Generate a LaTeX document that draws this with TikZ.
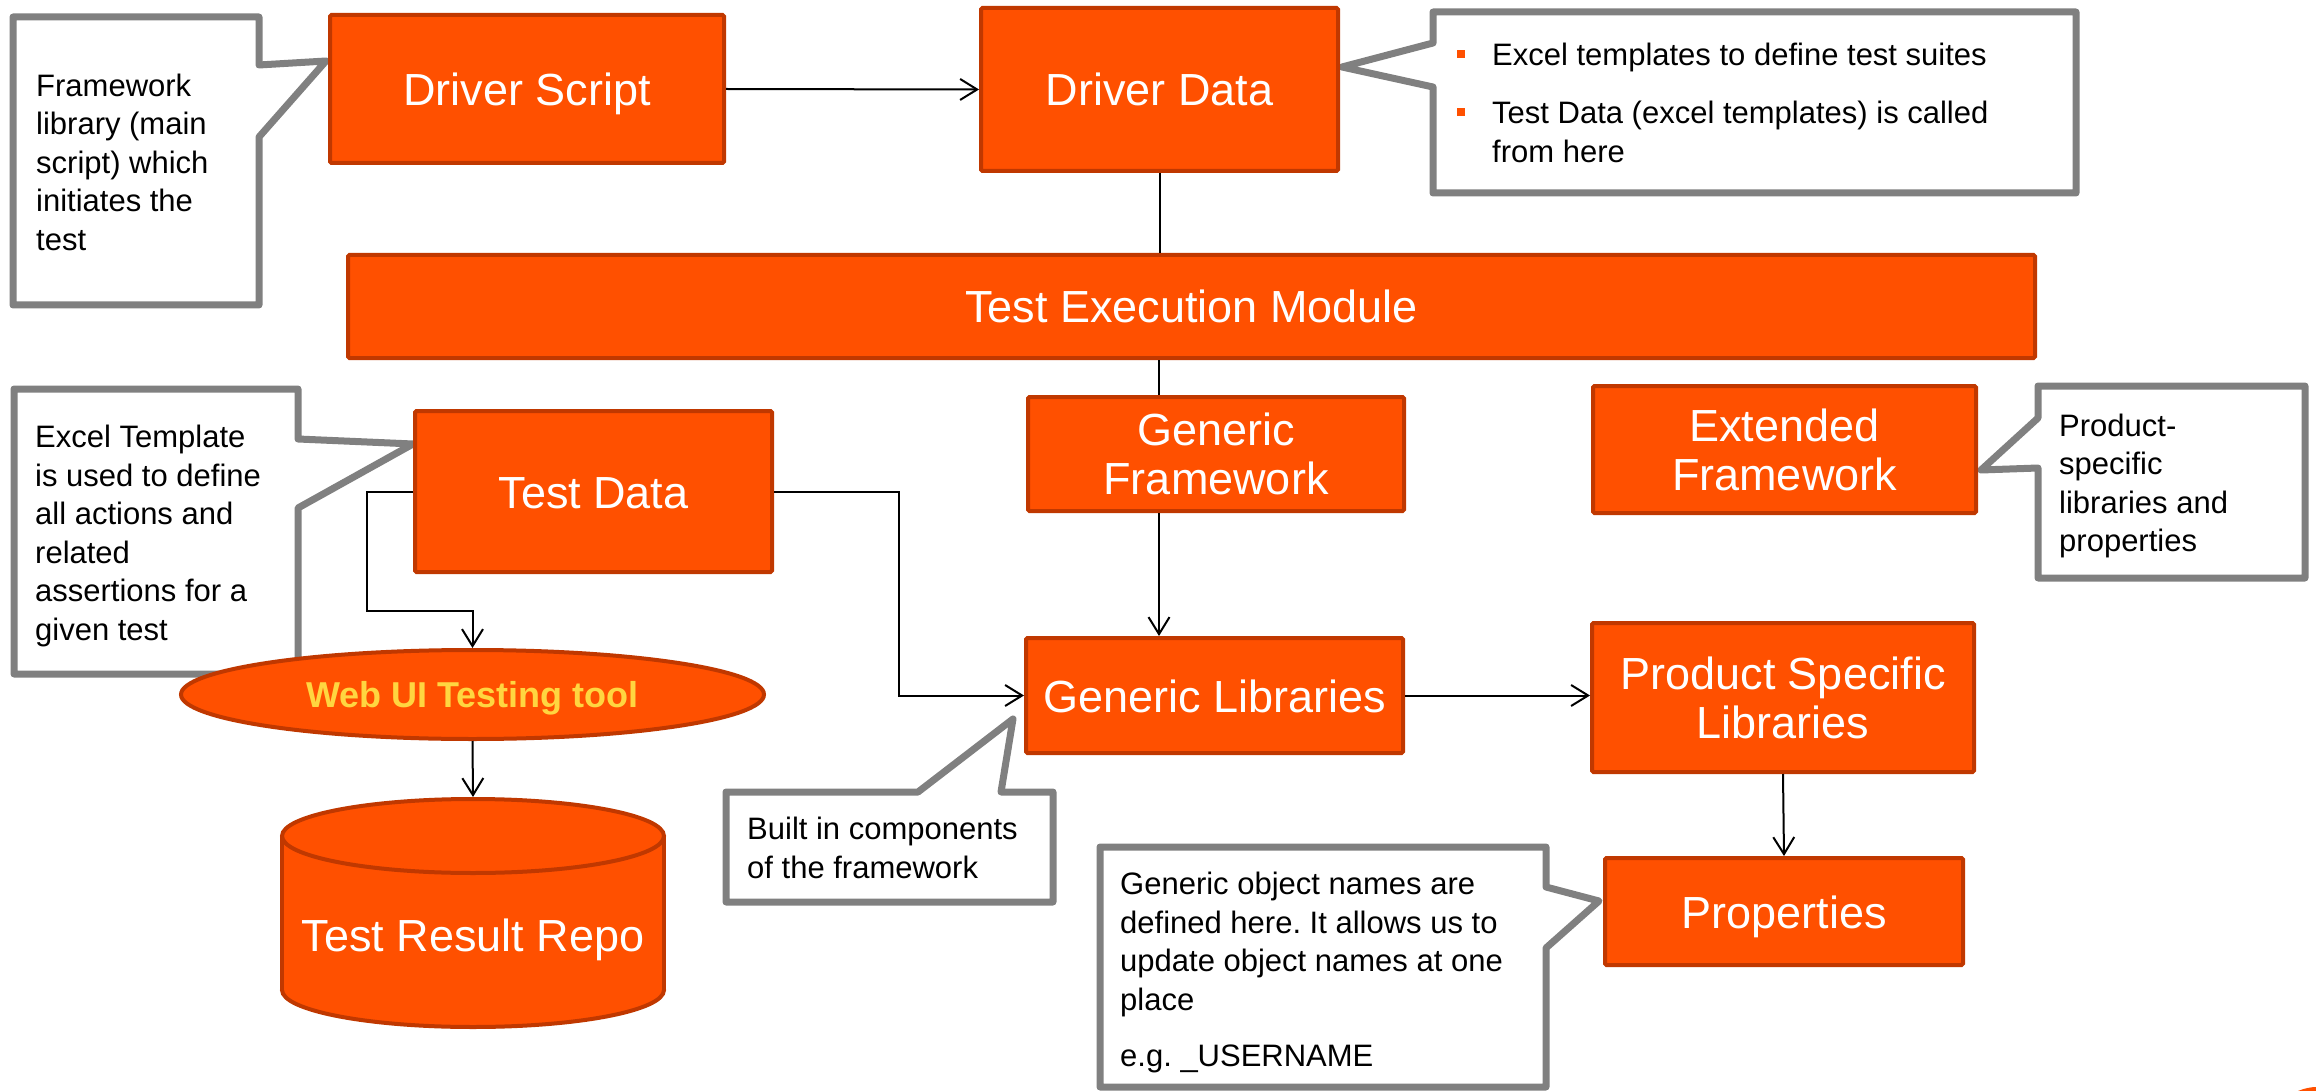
\documentclass[tikz,border=0pt]{standalone}
\usepackage{fontspec}
\setmainfont{Liberation Sans}
\usetikzlibrary{arrows.meta,shapes.geometric}
\frenchspacing

\definecolor{boxfill}{RGB}{255,80,0}
\definecolor{boxline}{RGB}{192,56,0}
\definecolor{notegray}{RGB}{128,128,128}
\definecolor{tooltext}{RGB}{255,214,64}

\tikzset{
  block/.style={draw=boxline, fill=boxfill, line width=4pt, rounded corners=1.5pt,
    text=white, font=\fontsize{45}{49}\selectfont, align=center, inner sep=0pt},
  oneline/.style={text height=33pt, text depth=0pt},
  note/.style={draw=notegray, fill=white, line width=7pt, line join=round},
  notetext/.style={font=\fontsize{31}{38.5}\selectfont, align=left, anchor=west, inner sep=0pt},
  link/.style={line width=2pt, black},
  arrowlink/.style={link, -{Straight Barb[length=17pt,width=21pt,line width=2pt]}},
}

\begin{document}
\begin{tikzpicture}[x=1pt, y=-1pt]
\useasboundingbox (0,0) rectangle (2316,1091);

% ---- callouts ----
\draw[note] (13,17) -- (259,17) -- (259,65) -- (326,61) -- (259,137) -- (259,305) -- (13,305) -- cycle;
\node[notetext] (n1) at (36,162) {Framework\\library (main\\script) which\\initiates the\\test};

\draw[note] (1433,12) -- (2076,12) -- (2076,193) -- (1433,193) -- (1433,87) -- (1342,67) -- (1433,43) -- cycle;
\fill[boxfill] (1457,50) rectangle (1465,58);
\fill[boxfill] (1457,108) rectangle (1465,116);
\node[notetext] (n2a) at (1492,57.5) {Excel templates to define test suites};
\node[notetext] (n2b) at (1492,132) {Test Data (excel templates) is called\\from here};

\draw[note] (14,389) -- (298,389) -- (298,439) -- (413,444) -- (298,508) -- (298,674) -- (14,674) -- cycle;
\node[notetext] (n3) at (35,536) {Excel Template\\is used to define\\all actions and\\related\\assertions for a\\given test};

\draw[note] (726,792) -- (918,792) -- (1013,719) -- (1001,792) -- (1053,792) -- (1053,902) -- (726,902) -- cycle;
\node[notetext] (n4) at (747,848) {Built in components\\of the framework};

\draw[note] (1100,847) -- (1546,847) -- (1546,887) -- (1599,901) -- (1546,948) -- (1546,1087) -- (1100,1087) -- cycle;
\node[notetext] (n5a) at (1120,944.5) {Generic object names are\\defined here. It allows us to\\update object names at one\\place};
\node[notetext] (n5b) at (1120,1059) {e.g. \_USERNAME};

\draw[note] (2038,386) -- (2305,386) -- (2305,578) -- (2038,578) -- (2038,468) -- (1981,470) -- (2038,418) -- cycle;
\node[notetext] (n6) at (2059,486) {Product-\\specific\\libraries and\\properties};

% ---- blocks ----
\node[block, oneline, minimum width=394, minimum height=148] (DS) at (527,89) {Driver Script};
\node[block, oneline, minimum width=357, minimum height=163] (DD) at (1159.5,89.5) {Driver Data};
\node[block, oneline, minimum width=1687, minimum height=103] (TEM) at (1191.5,306.5) {Test Execution Module};
\node[block, oneline, minimum width=357, minimum height=161] (TD) at (593.5,491.5) {Test Data};
\node[block, minimum width=376, minimum height=114] (GF) at (1216,454) {Generic\\Framework};
\node[block, oneline, minimum width=377, minimum height=115] (GL) at (1214.5,695.5) {Generic Libraries};
\node[block, minimum width=383, minimum height=127] (EF) at (1784.5,449.5) {Extended\\Framework};
\node[block, minimum width=382, minimum height=149] (PSL) at (1783,697.5) {Product Specific\\Libraries};
\node[block, oneline, minimum width=358, minimum height=107] (PR) at (1784,911.5) {Properties};

% web ui tool
\node[ellipse, draw=boxline, fill=boxfill, line width=4pt, minimum width=583, minimum height=89,
  inner sep=0pt, text height=26pt, text depth=0pt, text=tooltext,
  font=\bfseries\fontsize{36}{40}\selectfont] (WUI) at (472.5,694.5) {Web UI Testing tool};

% result repository cylinder
\draw[boxline, fill=boxfill, line width=4pt] (473,990) ellipse [x radius=191, y radius=37];
\fill[boxfill] (282,836) rectangle (664,990);
\draw[boxline, line width=4pt] (282,836) -- (282,990) (664,836) -- (664,990);
\draw[boxline, fill=boxfill, line width=4pt] (473,836) ellipse [x radius=191, y radius=37];
\node[text=white, font=\fontsize{45}{49}\selectfont, inner sep=0pt, oneline] (TRR) at (473,935) {Test Result Repo};
\coordinate (TRRtop) at (473,797);

% ---- connectors ----
\draw[arrowlink] (DS.east) -- (DD.west);
\draw[link] (DD.south) -- (DD.south |- TEM.north);
\coordinate (spine) at (1159,0);
\draw[link] (TEM.south -| spine) -- (GF.north -| spine);
\draw[arrowlink] (GF.south -| spine) -- (GL.north -| spine);
\draw[arrowlink] (TD.west) -- ++(-46,0) |- ([yshift=37pt]WUI.north) -- (WUI.north);
\draw[arrowlink] (WUI.south) -- (TRRtop);
\draw[arrowlink] (TD.east) -- ++(125,0) |- (GL.west);
\draw[arrowlink] (GL.east) -- (PSL.west |- GL.east);
\draw[arrowlink] (PSL.south) -- (PR.north);

% corner sliver
\fill[boxfill] (2298,1091) .. controls (2305,1088) and (2312,1087) .. (2316,1087) -- (2316,1091) -- cycle;
\end{tikzpicture}
\end{document}
